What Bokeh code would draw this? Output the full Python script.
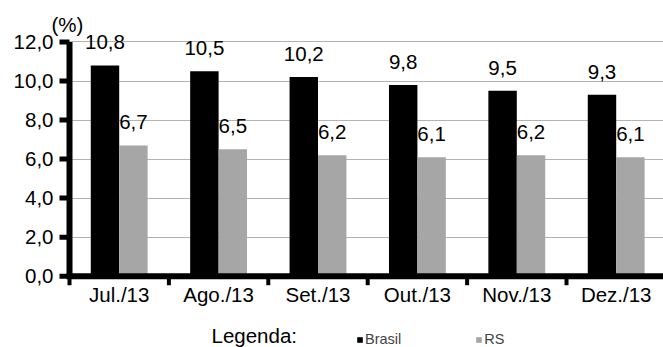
from bokeh.plotting import figure
from bokeh.models import (ColumnDataSource, FixedTicker, LabelSet, Label, Legend,
                          LegendItem, LinearAxis, Grid)
from bokeh.core.properties import value
from bokeh.transform import dodge
from bokeh.embed import file_html
from bokeh.resources import INLINE

months = ["Jul./13", "Ago./13", "Set./13", "Out./13", "Nov./13", "Dez./13"]
brasil = [10.8, 10.5, 10.2, 9.8, 9.5, 9.3]
rs = [6.7, 6.5, 6.2, 6.1, 6.2, 6.1]
y_ticks = [0, 2, 4, 6, 8, 10, 12]

FONT = "Liberation Sans"
FS = "20.5px"
W, H = 663, 347

def fmt(v):
    return f"{v:.1f}".replace(".", ",")

n = len(months)
pos = [i + 0.5 for i in range(n)]
src = ColumnDataSource(dict(
    x=pos, brasil=brasil, rs=rs,
    brasil_txt=[fmt(v) for v in brasil],
    rs_txt=[fmt(v) for v in rs],
))

# pixel geometry of the plotting area: origin and scale of both axes
X0, XS = 69.0, 99.4     # px of x=0, px per category
Y0, YS = 275.7, 19.52   # px of y=0 (from top), px per percentage point

# the frame covers the whole canvas; axes sit at the data origin
p = figure(width=W, height=H, output_backend="svg", toolbar_location=None,
           x_range=(-X0 / XS, (W - X0) / XS),
           y_range=(-(H - Y0) / YS, Y0 / YS),
           x_axis_location=None, y_axis_location=None, min_border=0)
p.outline_line_color = None
p.background_fill_color = "white"
p.border_fill_color = "white"
for g in p.grid:
    g.visible = False

y_lo, y_hi = y_ticks[0], y_ticks[-1]

# horizontal gridlines between the axis and the right edge
grid = Grid(dimension=1, ticker=FixedTicker(ticks=y_ticks), bounds=(y_lo, y_hi),
            grid_line_color="#b3b3b3", grid_line_width=1)
if "cross_bounds" in Grid.properties():
    grid.cross_bounds = (0, n)
    p.add_layout(grid)
else:
    p.segment(x0=0, x1=n, y0=y_ticks, y1=y_ticks, line_color="#b3b3b3", line_width=1)

bw = 0.286
off = bw / 2
r1 = p.vbar(x=dodge("x", -off, range=p.x_range), top="brasil", width=bw,
            source=src, fill_color="#000000", line_color=None)
r2 = p.vbar(x=dodge("x", off, range=p.x_range), top="rs", width=bw,
            source=src, fill_color="#a6a6a6", line_color=None)

# heavy axis rules and tick marks, drawn as filled blocks
RULE = 6  # px
p.rect(x=0, y=(y_lo + y_hi) / 2, width=RULE, height=y_hi - y_lo,
       width_units="screen", fill_color="black", line_color=None)
p.rect(x=(n - RULE / 2 / XS) / 2, y=y_lo, width=n + RULE / 2 / XS, height=RULE,
       height_units="screen", fill_color="black", line_color=None)
p.rect(x=-5 / XS, y=y_ticks, width=10, height=5, width_units="screen",
       height_units="screen", fill_color="black", line_color=None)
p.rect(x=list(range(n + 1)), y=-4.5 / YS, width=4, height=9, width_units="screen",
       height_units="screen", fill_color="black", line_color=None)

for col, d in (("brasil", -off), ("rs", off)):
    p.add_layout(LabelSet(x=dodge("x", d, range=p.x_range), y=col, text=col + "_txt",
                          source=src, y_offset=16, text_align="center",
                          text_baseline="alphabetic", text_font=value(FONT),
                          text_font_size=value(FS), text_color="black"))

# x axis: month names at category centres
xa = LinearAxis(fixed_location=0, bounds=(0, n))
xa.ticker = FixedTicker(ticks=pos, minor_ticks=[])
xa.major_label_overrides = {v: m for v, m in zip(pos, months)}
xa.major_tick_line_color = None
xa.minor_tick_line_color = None
xa.major_tick_in = 0
xa.major_tick_out = 0
xa.axis_line_color = None
xa.major_label_text_font = FONT
xa.major_label_text_font_size = FS
xa.major_label_text_color = "black"
xa.major_label_standoff = 7
p.add_layout(xa, "below")

ya = LinearAxis(fixed_location=0, bounds=(y_lo, y_hi))
ya.ticker = FixedTicker(ticks=y_ticks, minor_ticks=[])
ya.major_label_overrides = {v: fmt(v) for v in y_ticks}
ya.major_tick_in = 0
ya.major_tick_out = 7
ya.major_tick_line_color = None
ya.minor_tick_line_color = None
ya.axis_line_color = None
ya.major_label_text_font = FONT
ya.major_label_text_font_size = FS
ya.major_label_text_color = "black"
ya.major_label_standoff = 9
p.add_layout(ya, "left")

# unit marker and legend caption (screen units: from left, from bottom)
p.add_layout(Label(x=51, y=H - 12, x_units="screen", y_units="screen", text="(%)",
                   text_baseline="top", text_font=FONT, text_font_size=FS,
                   text_color="black"))
p.add_layout(Label(x=211, y=H - 323, x_units="screen", y_units="screen", text="Legenda:",
                   text_baseline="top", text_font=FONT, text_font_size=FS,
                   text_color="black"))

legend = Legend(items=[LegendItem(label="Brasil", renderers=[r1]),
                       LegendItem(label="RS", renderers=[r2])],
                orientation="horizontal", location=(356, 0),
                glyph_width=7, glyph_height=7, label_text_font=FONT,
                label_text_font_size="14.5px", label_height=14, spacing=74,
                padding=0, margin=0, label_standoff=2,
                background_fill_alpha=0, border_line_color=None)
p.add_layout(legend, "center")

open("out.html", "w").write(file_html(p, INLINE))
